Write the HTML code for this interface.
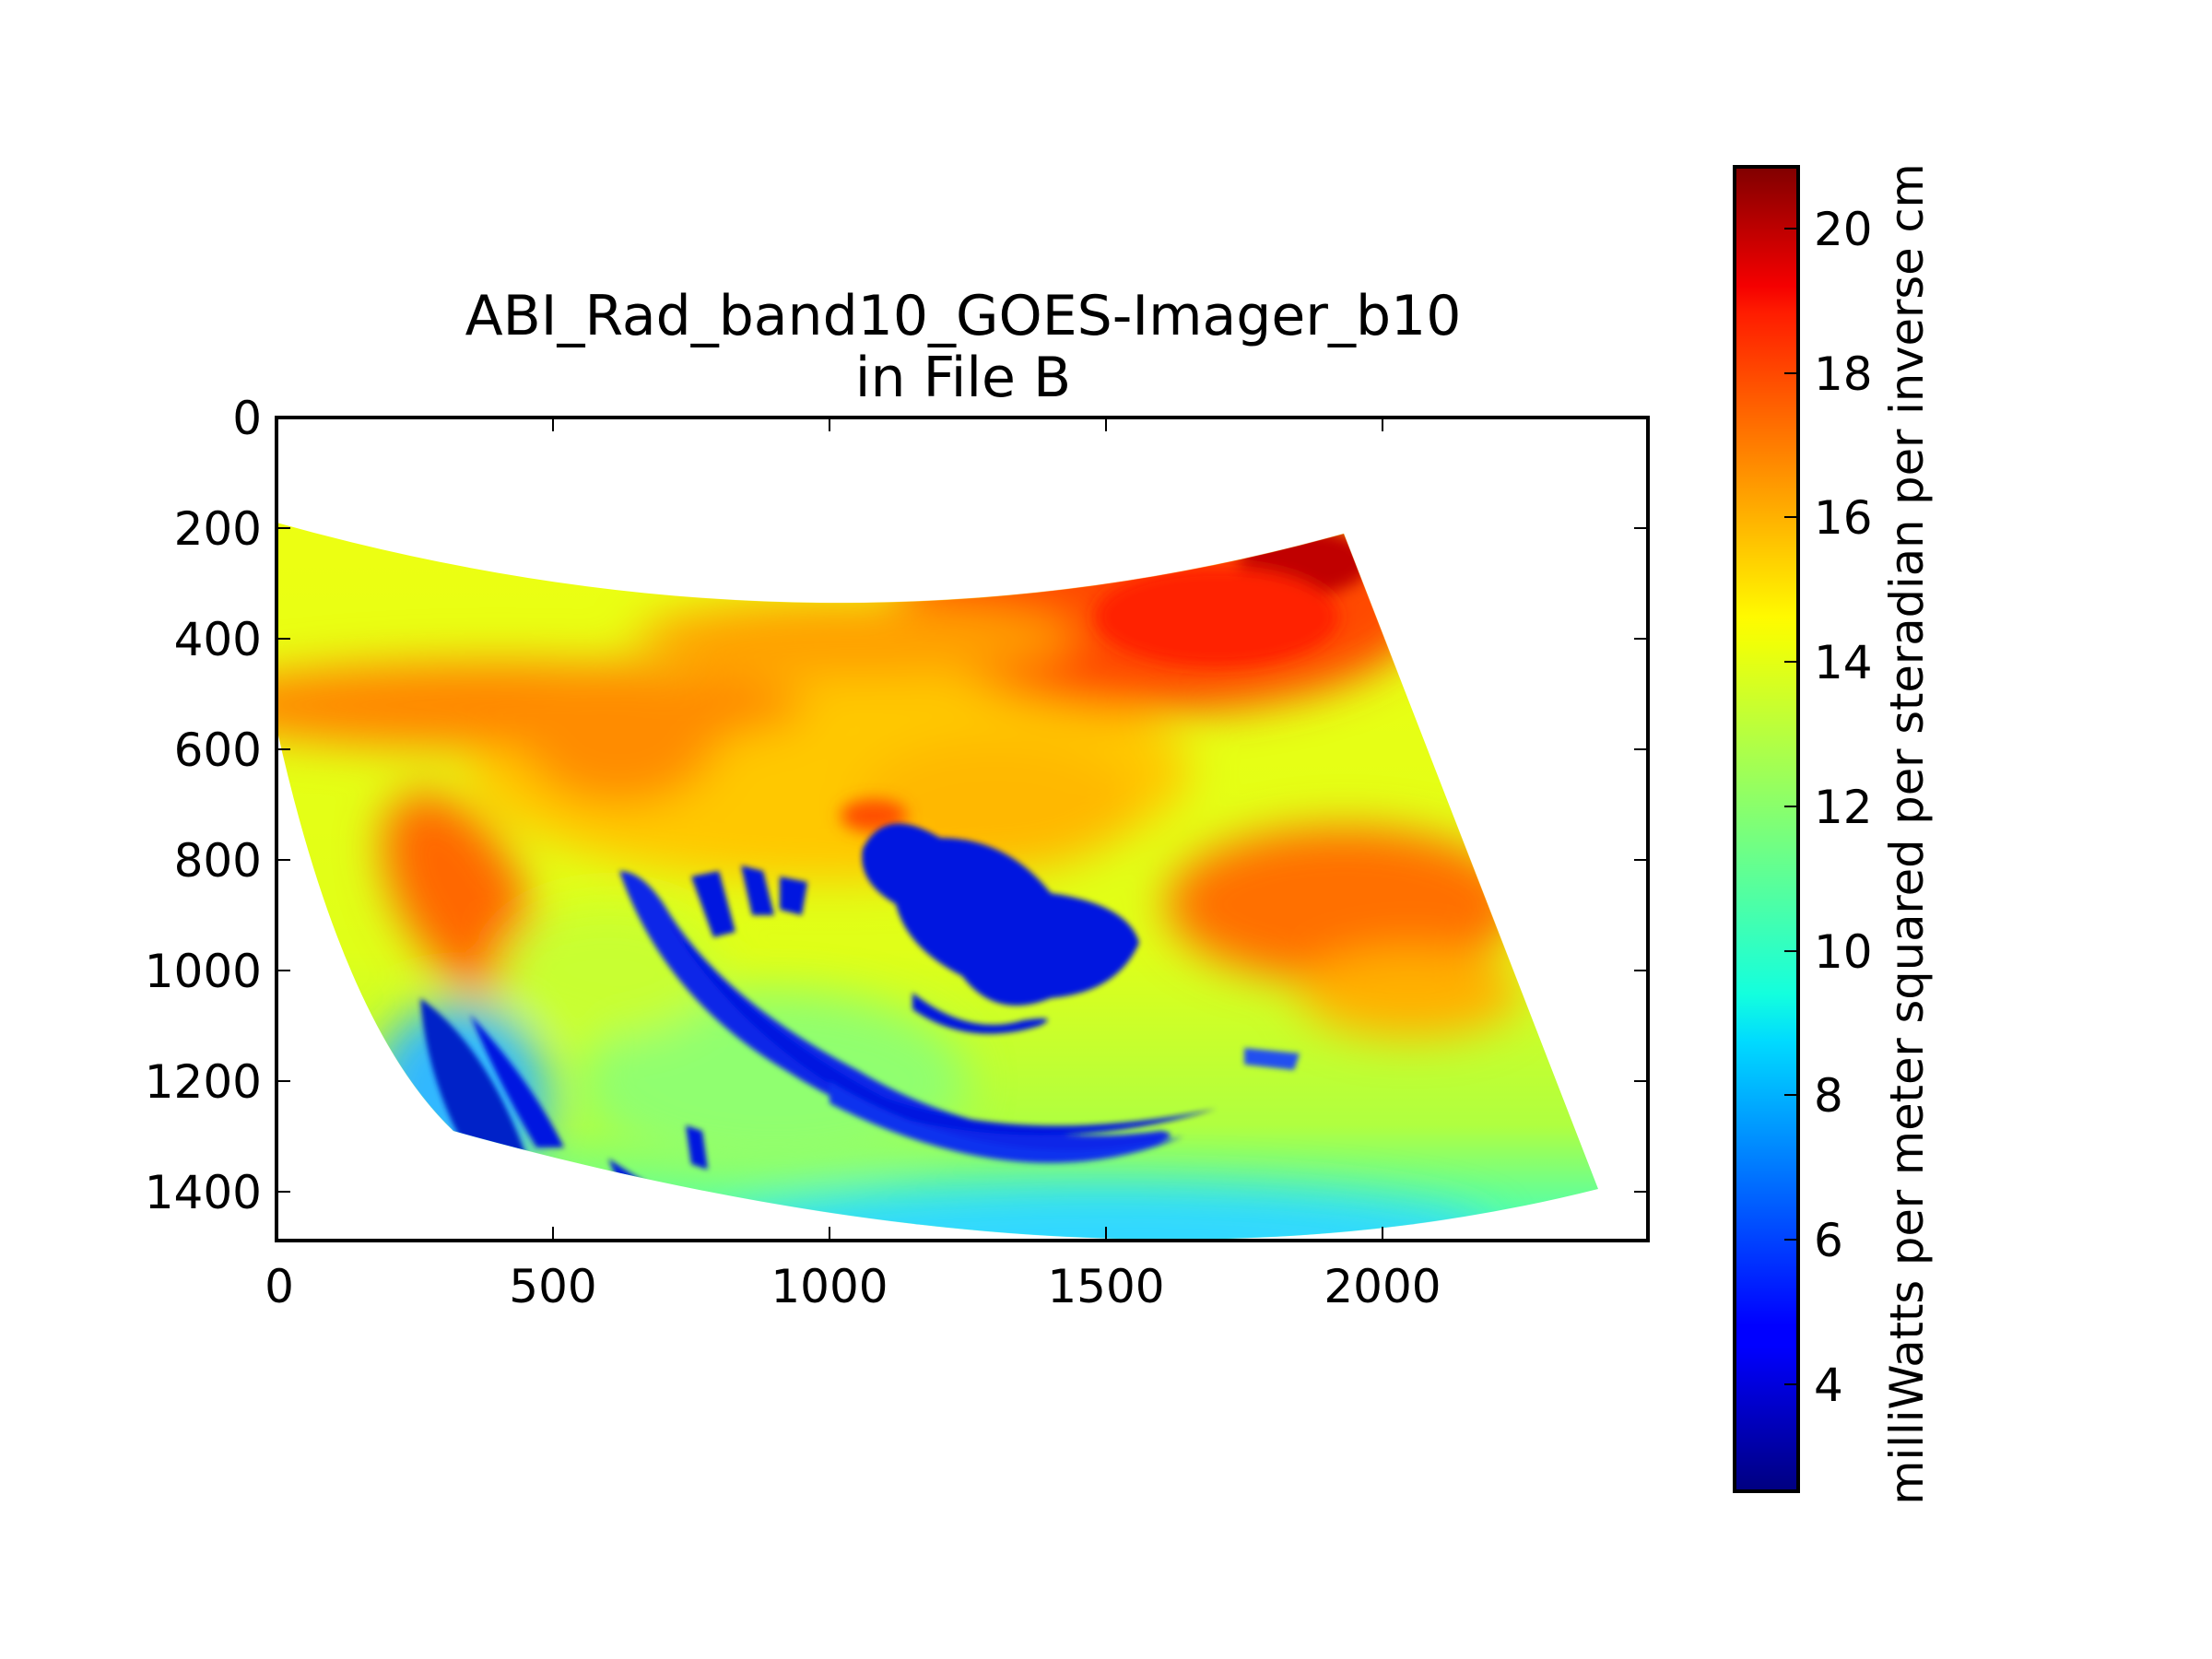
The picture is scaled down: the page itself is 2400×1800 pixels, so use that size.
<!DOCTYPE html>
<html><head><meta charset="utf-8"><style>
html,body{margin:0;padding:0;background:#fff;}
svg{display:block;}
text{font-family:"DejaVu Sans","Liberation Sans",sans-serif;fill:#000;}
</style></head><body>
<svg width="2400" height="1800" viewBox="0 0 2400 1800" xmlns="http://www.w3.org/2000/svg">
<defs>
<clipPath id="sw"><path d="M0,190 Q1000,470 1930,210 L2390,1395 Q1500,1620 320,1290 Q120,1100 0,560 Z"/></clipPath>
<clipPath id="ax"><rect x="0" y="0" width="2480" height="1488"/></clipPath>
<filter id="b1" x="-50%" y="-50%" width="200%" height="200%"><feGaussianBlur stdDeviation="40"/></filter>
<filter id="b2" x="-50%" y="-50%" width="200%" height="200%"><feGaussianBlur stdDeviation="14"/></filter>
<filter id="b3" x="-50%" y="-50%" width="200%" height="200%"><feGaussianBlur stdDeviation="5"/></filter>
<linearGradient id="base" x1="0" y1="0" x2="0" y2="1">
<stop offset="0" stop-color="#f0ff10"/><stop offset="0.6" stop-color="#e0ff18"/><stop offset="0.8" stop-color="#b0ff40"/><stop offset="0.92" stop-color="#40ffc0"/><stop offset="1" stop-color="#00c0ff"/>
</linearGradient>
<linearGradient id="jet" x1="0" y1="1" x2="0" y2="0">
<stop offset="0" stop-color="#000080"/><stop offset="0.11" stop-color="#0000ff"/><stop offset="0.125" stop-color="#0000ff"/><stop offset="0.34" stop-color="#00dbff"/><stop offset="0.375" stop-color="#13ffde"/><stop offset="0.64" stop-color="#f0ff08"/><stop offset="0.66" stop-color="#fffa00"/><stop offset="0.89" stop-color="#ff1c00"/><stop offset="0.91" stop-color="#f50000"/><stop offset="1" stop-color="#800000"/>
</linearGradient>
</defs>

<g transform="translate(300,453) scale(0.6)">
<g clip-path="url(#ax)">
<g clip-path="url(#sw)">
<rect x="0" y="0" width="2480" height="1600" fill="url(#base)"/>
<g filter="url(#b1)">
<ellipse cx="1000" cy="640" rx="650" ry="200" fill="#ffc800"/>
<ellipse cx="1600" cy="340" rx="480" ry="190" fill="#ff4a00"/>
<ellipse cx="1050" cy="400" rx="400" ry="70" fill="#ffa000"/>
<ellipse cx="400" cy="520" rx="560" ry="80" fill="#ff8800"/>
<ellipse cx="620" cy="570" rx="180" ry="130" fill="#ff8c00"/>
<ellipse cx="330" cy="860" rx="110" ry="200" fill="#ff6800" transform="rotate(-30 330 860)"/>
<ellipse cx="1930" cy="880" rx="320" ry="140" fill="#ff7000"/>
<ellipse cx="2050" cy="1040" rx="200" ry="80" fill="#ffb000"/>
<ellipse cx="1300" cy="700" rx="250" ry="120" fill="#ffb800"/>
<ellipse cx="900" cy="1200" rx="350" ry="160" fill="#90ff70"/>
<ellipse cx="330" cy="1230" rx="160" ry="170" fill="#30b8ff"/>
<ellipse cx="1500" cy="1480" rx="700" ry="90" fill="#30d8ff"/>
<ellipse cx="600" cy="1000" rx="200" ry="120" fill="#c8ff30"/>
</g>
<g filter="url(#b2)">
<ellipse cx="1860" cy="260" rx="120" ry="60" fill="#c00000"/>
<ellipse cx="1700" cy="360" rx="220" ry="90" fill="#ff2400"/>
<ellipse cx="1080" cy="720" rx="60" ry="30" fill="#ff5000"/>
</g>
<g filter="url(#b3)" fill="#0018e0">
<path d="M1060,780 Q1100,700 1200,760 Q1320,760 1400,860 Q1540,880 1560,950 Q1520,1040 1400,1050 Q1300,1090 1240,1010 Q1140,960 1120,880 Q1050,840 1060,780Z"/>
<path d="M1150,1040 Q1250,1120 1350,1090 Q1420,1080 1380,1100 Q1250,1140 1150,1070Z"/>
<path d="M620,820 Q700,1050 920,1180 Q1200,1360 1550,1320 Q1650,1300 1600,1290 Q1300,1330 1050,1180 Q800,1050 700,880 Q660,820 620,820Z" fill="#0828e8"/>
<path d="M700,900 Q850,1100 1100,1230 Q1350,1320 1700,1250 Q1400,1340 1100,1260 Q850,1140 700,900Z"/>
<path d="M1000,1200 Q1300,1380 1640,1300 Q1350,1420 1000,1240Z" fill="#0a30ee"/>
<path d="M750,830 L800,820 L830,930 L790,940Z"/>
<path d="M840,810 L880,820 L900,900 L860,900Z"/>
<path d="M910,830 L960,840 L950,900 L910,890Z"/>
<path d="M260,1050 Q400,1150 480,1420 L330,1300 Q270,1180 260,1050Z" fill="#0020c8"/>
<path d="M350,1080 Q460,1200 520,1320 L470,1320 Q400,1200 350,1080Z"/>
<path d="M600,1340 Q720,1420 820,1470 L700,1470 Q630,1420 600,1340Z"/>
<path d="M740,1280 L770,1290 L780,1360 L750,1350Z"/>
<path d="M1750,1140 L1850,1150 L1840,1180 L1750,1170Z" fill="#2050f0"/>
</g>
</g>
</g>
</g>

<rect x="300" y="453" width="1488" height="893" fill="none" stroke="#000" stroke-width="4"/>
<g stroke="#000" stroke-width="2">
<path d="M300,573h15M300,693h15M300,813h15M300,933h15M300,1053h15M300,1173h15M300,1293h15"/>
<path d="M1788,573h-15M1788,693h-15M1788,813h-15M1788,933h-15M1788,1053h-15M1788,1173h-15M1788,1293h-15"/>
<path d="M600,1346v-15M900,1346v-15M1200,1346v-15M1500,1346v-15"/>
<path d="M600,453v15M900,453v15M1200,453v15M1500,453v15"/>
</g>
<g font-size="50" text-anchor="end">
<text x="284" y="471">0</text>
<text x="284" y="591">200</text>
<text x="284" y="711">400</text>
<text x="284" y="831">600</text>
<text x="284" y="951">800</text>
<text x="284" y="1071">1000</text>
<text x="284" y="1191">1200</text>
<text x="284" y="1311">1400</text>
</g>
<g font-size="50" text-anchor="middle">
<text x="303" y="1413">0</text>
<text x="600" y="1413">500</text>
<text x="900" y="1413">1000</text>
<text x="1200" y="1413">1500</text>
<text x="1500" y="1413">2000</text>
</g>
<g font-size="60" text-anchor="middle">
<text x="1045" y="363">ABI_Rad_band10_GOES-Imager_b10</text>
<text x="1045" y="430">in File B</text>
</g>

<rect x="1882" y="181" width="69" height="1437" fill="url(#jet)" stroke="#000" stroke-width="4"/>
<g stroke="#000" stroke-width="2">
<path d="M1951,248h-15M1951,405h-15M1951,561h-15M1951,718h-15M1951,875h-15M1951,1032h-15M1951,1188h-15M1951,1345h-15M1951,1502h-15"/>
</g>
<g font-size="50">
<text x="1968" y="266">20</text>
<text x="1968" y="423">18</text>
<text x="1968" y="579">16</text>
<text x="1968" y="736">14</text>
<text x="1968" y="893">12</text>
<text x="1968" y="1050">10</text>
<text x="1968" y="1206">8</text>
<text x="1968" y="1363">6</text>
<text x="1968" y="1520">4</text>
</g>
<text x="0" y="0" font-size="49.5" text-anchor="middle" transform="translate(2086,905) rotate(-90)">milliWatts per meter squared per steradian per inverse cm</text>
</svg>
</body></html>
